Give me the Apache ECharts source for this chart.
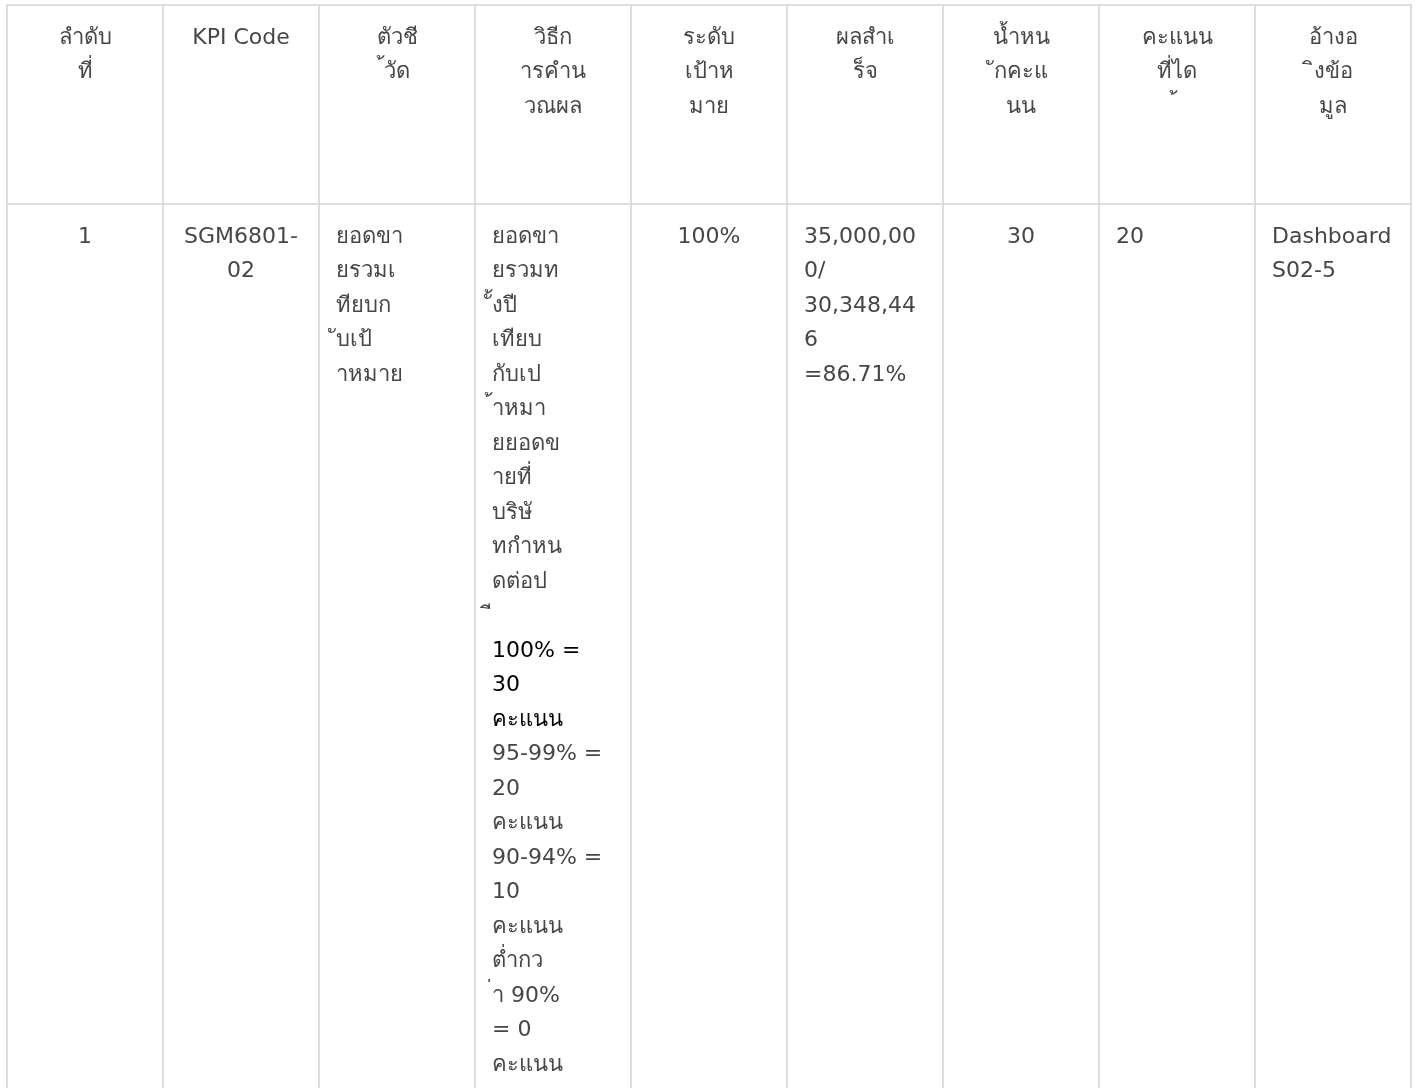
<!DOCTYPE html>
<html>
<head>
<meta charset="utf-8">
<script src="https://cdn.jsdelivr.net/npm/echarts@6/dist/echarts.min.js"></script>
<style>
html,body{margin:0;padding:0;background:#fff;overflow:hidden}
#chart{width:1417px;height:1088px}
</style>
</head>
<body>
<div id="chart"></div>
<script>
// ---- data ----
const columns = ['ลำดับที่', 'KPI Code', 'ตัวชี้วัด', 'วิธีการคำนวณผล', 'ระดับเป้าหมาย', 'ผลสำเร็จ', 'น้ำหนักคะแนน', 'คะแนนที่ได้', 'อ้างอิงข้อมูล'];
const rowNo = ['1'];
const kpiCode = ['SGM6801-02'];
const kpiName = ['ยอดขายรวมเทียบกับเป้าหมาย'];
const criteriaIntro = ['ยอดขายรวมทั้งปีเทียบกับเป้าหมายยอดขายที่บริษัทกำหนดต่อปี'];
const scoreTiers = ['100% = 30 คะแนน', '95-99% = 20 คะแนน', '90-94% = 10 คะแนน', 'ต่ำกว่า 90% = 0 คะแนน'];
const target = ['100%'];
const resultParts = ['35,000,000/', '30,348,446', '=86.71%'];
const weight = [30];
const score = [20];
const sourceParts = ['Dashboard', 'S02-5'];

// ---- layout ----
const FONT = 'DejaVu Sans';
const TEXT_COLOR = '#464646';
const ROW_EDGES = [0, 199, 1500];
const bodyAlign = ['center', 'center', 'left', 'left', 'center', 'left', 'center', 'left', 'left'];
const bodyOverflow = ['break', 'break', 'break', 'break', 'break', 'breakAll', 'break', 'break', 'break'];

const criteriaText = criteriaIntro[0] + '{hl|\n' + scoreTiers[0] + '}\n' + scoreTiers.slice(1).join('\n');
const rows = [
  columns,
  [rowNo[0], kpiCode[0], kpiName[0], criteriaText, target[0], resultParts.join('\n'),
   String(weight[0]), String(score[0]), sourceParts.join('\n')]
];
const cellData = [];
rows.forEach((row, r) => row.forEach((t, c) => cellData.push([c, r])));

const chart = echarts.init(document.getElementById('chart'), null, { renderer: 'canvas' });
chart.setOption({
  animation: false,
  backgroundColor: '#fff',
  grid: { left: 7, right: 6, top: 5, bottom: 0 },
  xAxis: { type: 'category', data: columns, show: false, boundaryGap: true },
  yAxis: { type: 'value', inverse: true, min: 0, max: 1083, show: false },
  series: [{
    type: 'custom',
    clip: false,
    data: cellData,
    renderItem: function (params, api) {
      const c = api.value(0), r = api.value(1);
      const colW = api.size([1, 0])[0];
      const p0 = api.coord([c, ROW_EDGES[r]]);
      const p1 = api.coord([c, ROW_EDGES[r + 1]]);
      const x0 = p0[0] - colW / 2;
      const top = Math.min(p0[1], p1[1]);
      const h = Math.abs(p1[1] - p0[1]);
      const align = r === 0 ? 'center' : bodyAlign[c];
      const overflow = r === 0 ? 'break' : bodyOverflow[c];
      const tx = align === 'center' ? p0[0] : x0 + 17;
      return {
        type: 'group',
        children: [
          { type: 'rect', shape: { x: x0, y: top, width: colW, height: h },
            style: { fill: 'transparent', stroke: '#dddddd', lineWidth: 2 } },
          { type: 'text', x: tx, y: top + 16,
            style: {
              text: rows[r][c], width: 122, overflow: overflow,
              fontSize: 22, fontFamily: FONT, lineHeight: 34.5,
              fill: TEXT_COLOR, align: align, verticalAlign: 'top',
              rich: { hl: { fill: '#000000', fontSize: 22, fontFamily: FONT, lineHeight: 34.5 } }
            } }
        ]
      };
    }
  }]
});
</script>
</body>
</html>
